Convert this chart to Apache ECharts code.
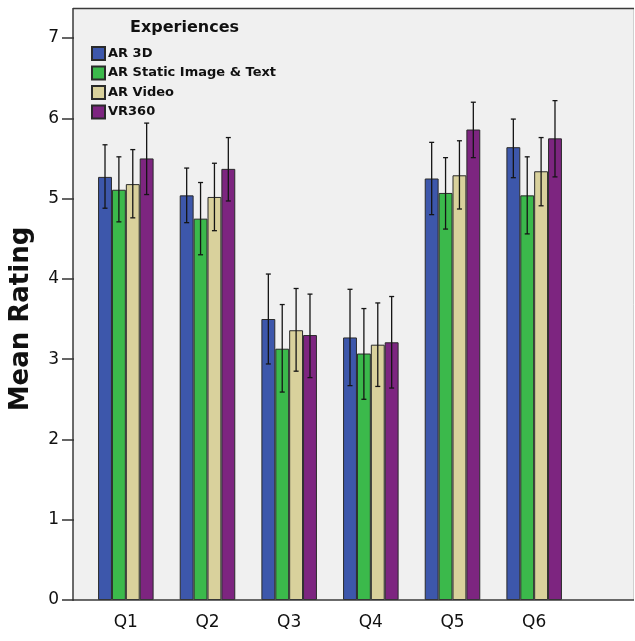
<!DOCTYPE html>
<html>
<head>
<meta charset="utf-8">
<script src="https://cdn.jsdelivr.net/npm/echarts@6/dist/echarts.min.js"></script>
<style>
    html, body { margin: 0; padding: 0; background: #fff; }
    #chart { width: 635px; height: 641px; }
</style>
</head>
<body>
<div id="chart"></div>
<script>
(function () {
    'use strict';

    var categories = ['Q1', 'Q2', 'Q3', 'Q4', 'Q5', 'Q6'];
    var seriesNames = ['AR 3D', 'AR Static Image & Text', 'AR Video', 'VR360'];
    var colors = ['#3d57ab', '#3bb94b', '#d9d19c', '#7d2580'];

    // mean ratings, one array per experience
    var ar3d = [5.27, 5.04, 3.50, 3.27, 5.25, 5.64];
    var arStatic = [5.11, 4.75, 3.13, 3.07, 5.07, 5.04];
    var arVideo = [5.18, 5.02, 3.36, 3.18, 5.29, 5.34];
    var vr360 = [5.50, 5.37, 3.30, 3.21, 5.86, 5.75];

    // error bar ends (low / high)
    var ar3dLow = [4.88, 4.70, 2.94, 2.67, 4.80, 5.26];
    var ar3dHigh = [5.67, 5.38, 4.06, 3.87, 5.70, 5.99];
    var arStaticLow = [4.71, 4.30, 2.59, 2.50, 4.62, 4.56];
    var arStaticHigh = [5.52, 5.20, 3.68, 3.63, 5.51, 5.52];
    var arVideoLow = [4.76, 4.60, 2.85, 2.66, 4.87, 4.91];
    var arVideoHigh = [5.61, 5.44, 3.88, 3.70, 5.72, 5.76];
    var vr360Low = [5.05, 4.97, 2.77, 2.64, 5.51, 5.27];
    var vr360High = [5.94, 5.76, 3.81, 3.78, 6.20, 6.22];

    var yTicks = [0, 1, 2, 3, 4, 5, 6, 7];

    var means = [ar3d, arStatic, arVideo, vr360];
    var lows = [ar3dLow, arStaticLow, arVideoLow, vr360Low];
    var highs = [ar3dHigh, arStaticHigh, arVideoHigh, vr360High];

    var categoryGap = 0.32;
    var font = 'DejaVu Sans';

    var myChart = echarts.init(document.getElementById('chart'));

    var series = seriesNames.map(function (name, i) {
        return {
            name: name,
            type: 'bar',
            data: means[i],
            barGap: '0%',
            barCategoryGap: (categoryGap * 100) + '%',
            itemStyle: { color: colors[i], borderColor: '#2a2a2a', borderWidth: 1 },
            emphasis: { disabled: true }
        };
    });

    // error bars drawn over the bars
    var errData = [];
    categories.forEach(function (c, ci) {
        for (var s = 0; s < seriesNames.length; s++) {
            errData.push([ci, lows[s][ci], highs[s][ci], s]);
        }
    });

    series.push({
        type: 'custom',
        name: 'err',
        z: 10,
        silent: true,
        data: errData,
        encode: { x: 0, y: [1, 2] },
        renderItem: function (params, api) {
            var band = api.size([1, 0])[0];
            var group = band * (1 - categoryGap);
            var barW = group / seriesNames.length;
            var idx = api.value(3);
            var center = api.coord([api.value(0), 0])[0];
            var x = center - group / 2 + (idx + 0.5) * barW;
            var yLo = api.coord([api.value(0), api.value(1)])[1];
            var yHi = api.coord([api.value(0), api.value(2)])[1];
            var cap = 2.5;
            var style = { stroke: '#151515', lineWidth: 1.3 };
            return {
                type: 'group',
                children: [
                    { type: 'line', shape: { x1: x, y1: yLo, x2: x, y2: yHi }, style: style },
                    { type: 'line', shape: { x1: x - cap, y1: yLo, x2: x + cap, y2: yLo }, style: style },
                    { type: 'line', shape: { x1: x - cap, y1: yHi, x2: x + cap, y2: yHi }, style: style }
                ]
            };
        }
    });

    myChart.setOption({
        animation: false,
        backgroundColor: '#ffffff',
        // plot frame: dark top/left/bottom, faint right edge
        graphic: [
            { type: 'rect', z: -10, shape: { x: 73, y: 9, width: 561, height: 591 }, style: { fill: '#f0f0f0' } },
            { type: 'line', z: -5, shape: { x1: 633.5, y1: 9, x2: 633.5, y2: 600 }, style: { stroke: '#d0d0d0', lineWidth: 1 } },
            { type: 'line', z: -5, shape: { x1: 73, y1: 8.5, x2: 634, y2: 8.5 }, style: { stroke: '#3a3a3a', lineWidth: 1.5 } },
            { type: 'line', z: -5, shape: { x1: 73, y1: 8, x2: 73, y2: 600 }, style: { stroke: '#3a3a3a', lineWidth: 1.5 } },
            { type: 'line', z: 20, shape: { x1: 72, y1: 600, x2: 634, y2: 600 }, style: { stroke: '#3a3a3a', lineWidth: 1.5 } }
        ],
        title: {
            text: 'Experiences',
            left: 125,
            top: 15,
            textStyle: { fontFamily: font, fontSize: 16, fontWeight: 'bold', color: '#111' }
        },
        legend: {
            data: seriesNames,
            orient: 'vertical',
            left: 86,
            top: 41,
            itemWidth: 13,
            itemHeight: 13,
            itemGap: 4.5,
            icon: 'rect',
            selectedMode: false,
            textStyle: { fontFamily: font, fontSize: 13, fontWeight: 'bold', color: '#111', padding: [0, 0, 0, -2] }
        },
        grid: { left: 84, right: 60, top: 38, bottom: 41 },
        xAxis: {
            type: 'category',
            data: categories,
            axisLine: { show: false },
            axisTick: { alignWithLabel: true, length: 11, lineStyle: { color: '#333', width: 1.5 } },
            axisLabel: { fontFamily: font, fontSize: 17, color: '#111', margin: 14 }
        },
        yAxis: {
            type: 'value',
            min: yTicks[0],
            max: yTicks[yTicks.length - 1],
            interval: 1,
            offset: 11,
            name: 'Mean Rating',
            nameLocation: 'middle',
            nameGap: 40,
            nameTextStyle: { fontFamily: font, fontSize: 26, fontWeight: 'bold', color: '#111' },
            splitLine: { show: false },
            axisLine: { show: false },
            axisTick: { show: true, length: 12, lineStyle: { color: '#333', width: 1.5 } },
            axisLabel: { fontFamily: font, fontSize: 17, color: '#111', margin: 15 }
        },
        series: series
    });
})();
</script>
</body>
</html>
